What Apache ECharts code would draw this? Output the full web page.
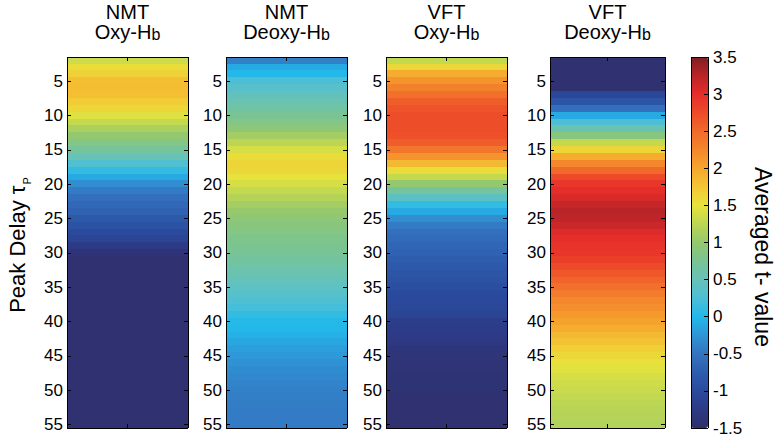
<!DOCTYPE html>
<html><head><meta charset="utf-8">
<script src="https://cdn.jsdelivr.net/npm/echarts@6/dist/echarts.min.js"></script>
<style>html,body{margin:0;padding:0;background:#fff}#c{width:776px;height:438px}#c svg path,#c svg rect{shape-rendering:crispEdges}</style>
</head><body><div id="c"></div>
<script>
// ---- data ----
const delays = [2,3,4,5,6,7,8,9,10,11,12,13,14,15,16,17,18,19,20,21,22,23,24,25,26,27,28,29,30,31,32,33,34,35,36,37,38,39,40,41,42,43,44,45,46,47,48,49,50,51,52,53,54,55];
const yTickLabels = [5,10,15,20,25,30,35,40,45,50,55];
const panelTitles = ['NMT','NMT','VFT','VFT'];
const panelSubs = ['Oxy-H','Deoxy-H','Oxy-H','Deoxy-H'];
const colorbarTicks = [-1.5,-1,-0.5,0,0.5,1,1.5,2,2.5,3,3.5];
const nmtOxy = [1.35,1.55,1.65,1.8,1.82,1.8,1.7,1.6,1.45,1.3,1.15,1.0,0.85,0.7,0.5,0.3,0.1,-0.1,-0.3,-0.45,-0.55,-0.62,-0.7,-0.8,-0.9,-1.0,-1.1,-1.25,-1.38,
  -1.45,-1.45,-1.45,-1.45,-1.45,-1.45,-1.45,-1.45,-1.45,-1.45,-1.45,-1.45,-1.45,-1.45,-1.45,-1.45,-1.45,-1.45,-1.45,-1.45,-1.45,-1.45,-1.45,-1.45,-1.45];
const nmtDeoxy = [-0.4,-0.1,0.0,0.25,0.35,0.45,0.55,0.65,0.75,0.85,0.95,1.1,1.25,1.4,1.55,1.62,1.6,1.5,1.4,1.3,1.2,1.1,1.02,0.95,0.9,0.85,0.8,0.78,0.72,0.68,0.62,0.55,0.48,0.42,0.35,0.28,0.2,0.1,0.02,0.0,-0.05,-0.12,-0.18,-0.22,-0.28,-0.32,-0.35,-0.38,-0.4,-0.42,-0.43,-0.44,-0.45,-0.45];
const vftOxy = [1.3,1.6,1.95,2.15,2.3,2.45,2.6,2.68,2.72,2.72,2.72,2.7,2.6,2.4,2.15,1.85,1.55,1.3,1.0,0.7,0.4,0.1,-0.1,-0.3,-0.45,-0.55,-0.6,-0.65,-0.7,-0.75,-0.8,-0.85,-0.9,-0.95,-1.0,-1.02,-1.05,-1.08,-1.2,-1.22,-1.25,-1.28,-1.35,-1.37,-1.38,-1.39,-1.4,-1.4,-1.41,-1.45,-1.45,-1.45,-1.45,-1.45];
const vftDeoxy = [-1.45,-1.45,-1.45,-1.45,-1.45,-1.05,-0.85,-0.55,-0.1,0.25,0.55,0.9,1.3,1.62,1.95,2.25,2.5,2.75,2.92,3.0,3.08,3.18,3.25,3.22,3.15,3.05,3.0,2.95,2.92,2.85,2.75,2.65,2.55,2.45,2.35,2.25,2.18,2.1,2.02,1.95,1.85,1.78,1.68,1.6,1.52,1.46,1.4,1.36,1.32,1.28,1.25,1.22,1.2,1.18];
const panelValues = [nmtOxy, nmtDeoxy, vftOxy, vftDeoxy];

// ---- style / layout ----
const FONT = '"Liberation Sans", Arial, Helvetica, sans-serif';
const cmap = ['#2f2f6b','#2d3a85','#2a4a9d','#2e5dae','#3474bf','#2f95d6','#22b8ea','#4cbfd6','#67c2b8','#78c494','#94c86e','#bcd653','#e8e33c','#f3c634','#f6a52e','#f4872c','#f16a2b','#ed4a29','#e52d2a','#b92428','#7d1f20'];
const TOP = 57, H = 371;
const panels = [{left:67,width:121},{left:226,width:121},{left:386,width:121},{left:550,width:115}];
const cb = {left:691, width:17};

const tickFn = (i, v) => yTickLabels.indexOf(+v) >= 0;
const grids = [], xAxes = [], yAxes = [], series = [], graphics = [];
const lineStyle = {color:'#000', width:1};

panels.forEach((p, k) => {
  grids.push({left:p.left, width:p.width, top:TOP, height:H});
  ['bottom','top'].forEach(pos => xAxes.push({
    type:'category', gridIndex:k, data:[''], position:pos,
    axisLine:{show:true, onZero:false, lineStyle},
    axisTick:{show:true, inside:true, alignWithLabel:true, length:4, lineStyle},
    axisLabel:{show:false}, splitLine:{show:false}, z:10
  }));
  ['left','right'].forEach(pos => yAxes.push({
    type:'category', gridIndex:k, data:delays.map(String), inverse:true, position:pos,
    axisLine:{show:true, onZero:false, lineStyle},
    axisTick:{show:true, inside:true, alignWithLabel:true, length:4, interval:tickFn, lineStyle},
    axisLabel:{show:pos==='left', interval:tickFn, fontSize:17, color:'#000', fontFamily:FONT, margin:4},
    splitLine:{show:false}, z:10
  }));
  series.push({
    type:'heatmap', xAxisIndex:2*k, yAxisIndex:2*k,
    data: panelValues[k].map((v, i) => [0, i, v]),
    itemStyle:{borderWidth:0}, progressive:0, emphasis:{disabled:true}
  });
  const cx = p.left + p.width/2;
  graphics.push({type:'text', x:cx, y:22, style:{
    text:'{a|'+panelTitles[k]+'}\n{a|'+panelSubs[k]+'}{b|b}', textAlign:'center', textVerticalAlign:'middle',
    rich:{a:{fontSize:20, lineHeight:20, fontFamily:FONT, fill:'#000'}, b:{fontSize:16, lineHeight:14, verticalAlign:'bottom', fontFamily:FONT, fill:'#000'}}
  }});
});

// colorbar frame + ticks
const ci = panels.length;
grids.push({left:cb.left, width:cb.width, top:TOP, height:H});
['bottom','top'].forEach(pos => xAxes.push({
  type:'category', gridIndex:ci, data:[''], position:pos,
  axisLine:{show:true, onZero:false, lineStyle}, axisTick:{show:false}, axisLabel:{show:false}, z:10
}));
yAxes.push({
  type:'value', gridIndex:ci, min:colorbarTicks[0], max:colorbarTicks[colorbarTicks.length-1], interval:0.5, position:'right',
  axisLine:{show:true, onZero:false, lineStyle},
  axisTick:{show:true, inside:true, length:4, lineStyle},
  axisLabel:{fontSize:17, color:'#000', fontFamily:FONT, margin:5, formatter:v => String(v)},
  splitLine:{show:false}, z:10
});
yAxes.push({
  type:'value', gridIndex:ci, min:colorbarTicks[0], max:colorbarTicks[colorbarTicks.length-1], interval:0.5, position:'left',
  axisLine:{show:true, onZero:false, lineStyle}, axisTick:{show:false}, axisLabel:{show:false}, splitLine:{show:false}, z:10
});

graphics.push({type:'text', x:17, y:245, rotation:Math.PI/2, style:{
  text:'{a|Peak Delay τ}{s|P}', textAlign:'center', textVerticalAlign:'middle',
  rich:{a:{fontSize:22, fontFamily:FONT, fill:'#000'}, s:{fontSize:11, fontFamily:FONT, fill:'#000', verticalAlign:'bottom', padding:[0,0,-4,1]}}
}});
graphics.push({type:'text', x:763, y:257, rotation:-Math.PI/2, style:{
  text:'Averaged t- value', fill:'#000', font:'23px '+FONT, textAlign:'center', textVerticalAlign:'middle'
}});

const chart = echarts.init(document.getElementById('c'), null, {renderer:'svg'});
chart.setOption({
  animation:false,
  backgroundColor:'#fff',
  grid:grids, xAxis:xAxes, yAxis:yAxes, series,
  visualMap:{
    type:'continuous', min:colorbarTicks[0], max:colorbarTicks[colorbarTicks.length-1], seriesIndex:[0,1,2,3],
    left:cb.left, top:TOP, itemWidth:cb.width, itemHeight:H, padding:0,
    calculable:false, showLabel:false, text:null, orient:'vertical',
    inRange:{color:cmap}, hoverLink:false
  },
  graphic:graphics
});
</script></body></html>
